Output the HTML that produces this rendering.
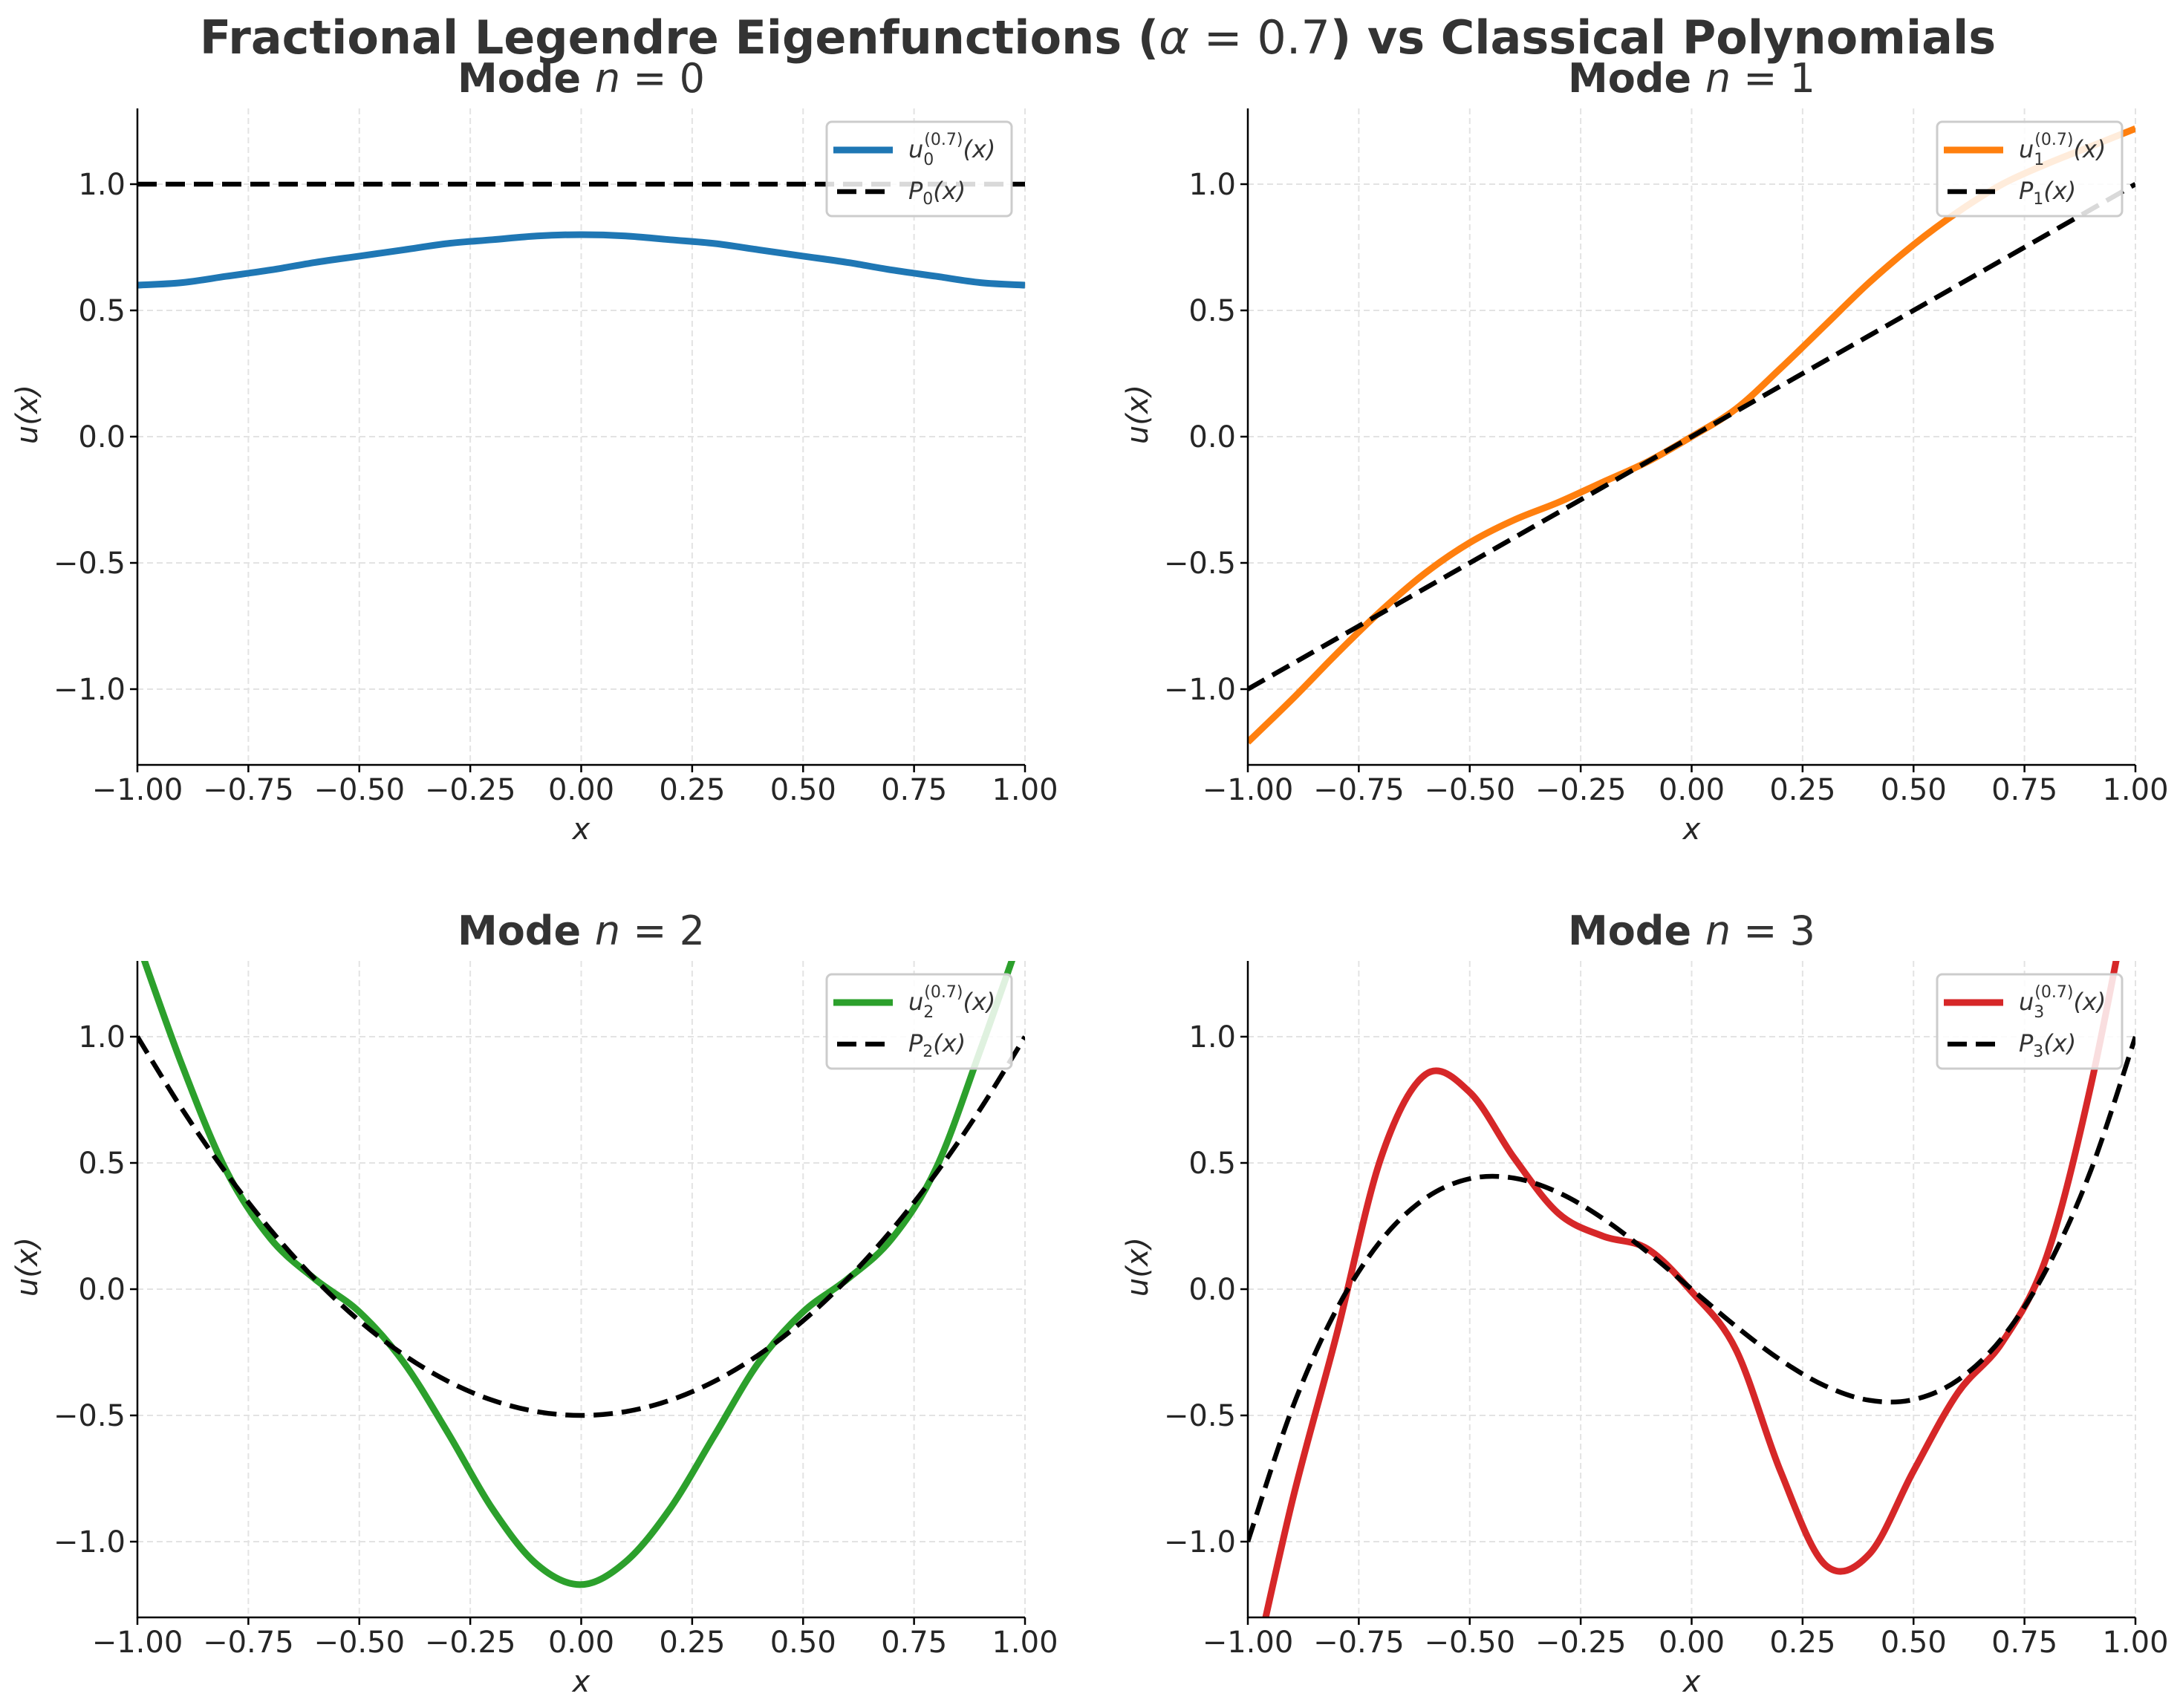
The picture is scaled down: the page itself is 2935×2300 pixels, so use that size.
<!DOCTYPE html>
<html><head><meta charset="utf-8">
<style>
html,body{margin:0;padding:0;background:#fff;}
svg{display:block;font-family:"DejaVu Sans","Liberation Sans",sans-serif;}
</style></head>
<body>
<svg id="fig" width="2935" height="2300" viewBox="0 0 2935 2300" xmlns="http://www.w3.org/2000/svg">
<rect width="2935" height="2300" fill="#fff"/>
<text x="1478" y="72" text-anchor="middle" font-size="62" font-weight="bold" fill="#333">Fractional Legendre Eigenfunctions (<tspan font-style="italic" font-weight="normal">α</tspan><tspan font-weight="normal"> = 0.7</tspan>) vs Classical Polynomials</text>
</svg>
<script>
// ---- data ----
const xGrid = [-1,-0.9,-0.8,-0.7,-0.6,-0.5,-0.4,-0.3,-0.2,-0.1,0,0.1,0.2,0.3,0.4,0.5,0.6,0.7,0.8,0.9,1];
const u0 = [0.60,0.61,0.635,0.66,0.69,0.715,0.74,0.765,0.78,0.795,0.80,0.795,0.78,0.765,0.74,0.715,0.69,0.66,0.635,0.61,0.60];
const p0 = [1,1,1,1,1,1,1,1,1,1,1,1,1,1,1,1,1,1,1,1,1];
const u1 = [-1.21,-1.04,-0.86,-0.69,-0.54,-0.42,-0.33,-0.26,-0.18,-0.10,0,0.11,0.27,0.44,0.61,0.76,0.89,1.0,1.08,1.15,1.22];
const p1 = [-1,-0.9,-0.8,-0.7,-0.6,-0.5,-0.4,-0.3,-0.2,-0.1,0,0.1,0.2,0.3,0.4,0.5,0.6,0.7,0.8,0.9,1];
const u2 = [1.38,0.89,0.47,0.20,0.04,-0.09,-0.29,-0.57,-0.87,-1.09,-1.17,-1.08,-0.87,-0.58,-0.29,-0.09,0.04,0.20,0.48,0.95,1.45];
const p2 = [1,0.715,0.46,0.235,0.04,-0.125,-0.26,-0.365,-0.44,-0.485,-0.5,-0.485,-0.44,-0.365,-0.26,-0.125,0.04,0.235,0.46,0.715,1];
const x3 = [-1,-0.9,-0.8,-0.7,-0.6,-0.5,-0.4,-0.3,-0.2,-0.1,0,0.1,0.2,0.3,0.4,0.5,0.6,0.7,0.8,0.9,1];
const u3 = [-1.62,-0.84,-0.18,0.52,0.85,0.78,0.52,0.30,0.21,0.16,-0.01,-0.24,-0.72,-1.09,-1.05,-0.72,-0.41,-0.21,0.13,0.81,1.7];
const p3 = [-1,-0.4725,-0.08,0.1925,0.36,0.4375,0.44,0.3825,0.28,0.1475,0,-0.1475,-0.28,-0.3825,-0.44,-0.4375,-0.36,-0.1925,0.08,0.4725,1];
const xTicks = [-1,-0.75,-0.5,-0.25,0,0.25,0.5,0.75,1];
const xTickLabels = ["−1.00","−0.75","−0.50","−0.25","0.00","0.25","0.50","0.75","1.00"];
const yTicks = [-1,-0.5,0,0.5,1];
const yTickLabels = ["−1.0","−0.5","0.0","0.5","1.0"];

const NS = "http://www.w3.org/2000/svg";
const fig = document.getElementById('fig');
function mk(tag, attrs, parent){
  const e = document.createElementNS(NS, tag);
  for (const k in attrs) e.setAttribute(k, attrs[k]);
  (parent||fig).appendChild(e);
  return e;
}
function smoothPath(pts){
  let d = "M" + pts[0][0].toFixed(2) + "," + pts[0][1].toFixed(2);
  for (let i=0;i<pts.length-1;i++){
    const p0 = pts[Math.max(0,i-1)], p1 = pts[i], p2 = pts[i+1], p3 = pts[Math.min(pts.length-1,i+2)];
    const c1x = p1[0]+(p2[0]-p0[0])/6, c1y = p1[1]+(p2[1]-p0[1])/6;
    const c2x = p2[0]-(p3[0]-p1[0])/6, c2y = p2[1]-(p3[1]-p1[1])/6;
    d += " C"+c1x.toFixed(2)+","+c1y.toFixed(2)+" "+c2x.toFixed(2)+","+c2y.toFixed(2)+" "+p2[0].toFixed(2)+","+p2[1].toFixed(2);
  }
  return d;
}

const panels = [
  {n:0, left:185, top:146, xs:xGrid, u:u0, p:p0, color:"#1f77b4"},
  {n:1, left:1680, top:146, xs:xGrid, u:u1, p:p1, color:"#ff7f0e"},
  {n:2, left:185, top:1294, xs:xGrid, u:u2, p:p2, color:"#2ca02c"},
  {n:3, left:1680, top:1294, xs:x3, u:u3, p:p3, color:"#d62728"}
];
const W = 1195, H = 884, YMIN = -1.3, YMAX = 1.3;

panels.forEach(pn => {
  const g = mk('g', {});
  
  
  const sx = v => pn.left + (v + 1) / 2 * W;
  const sy = v => pn.top + (YMAX - v) / (YMAX - YMIN) * H;
  const cid = 'clip' + pn.n;
  const cp = mk('clipPath', {id: cid}, g);
  mk('rect', {x: pn.left, y: pn.top, width: W, height: H}, cp);

  xTicks.forEach(t => {
    const l = mk('line', {x1: sx(t), x2: sx(t), y1: pn.top, y2: pn.top + H, stroke: "#e3e3e3", "stroke-width": 2, "stroke-dasharray": "8 5"}, g);
    
    
  });
  yTicks.forEach(t => {
    const l = mk('line', {x1: pn.left, x2: pn.left + W, y1: sy(t), y2: sy(t), stroke: "#e3e3e3", "stroke-width": 2, "stroke-dasharray": "8 5"}, g);
    
    
  });

  const up = mk('path', {d: smoothPath(pn.xs.map((x, i) => [sx(x), sy(pn.u[i])])), fill: "none", stroke: pn.color, "stroke-width": 9, "stroke-linejoin": "round", "clip-path": "url(#" + cid + ")"}, g);
  
  
  const pp = mk('path', {d: smoothPath(xGrid.map((x, i) => [sx(x), sy(pn.p[i])])), fill: "none", stroke: "#000", "stroke-width": 6.5, "stroke-dasharray": "26 12", "clip-path": "url(#" + cid + ")"}, g);
  
  

  const sl = mk('line', {x1: pn.left, x2: pn.left, y1: pn.top, y2: pn.top + H + 1, stroke: "#000", "stroke-width": 2.5}, g);
  
  
  const sb = mk('line', {x1: pn.left - 1, x2: pn.left + W, y1: pn.top + H, y2: pn.top + H, stroke: "#000", "stroke-width": 2.5}, g);
  
  

  xTicks.forEach((t, i) => {
    mk('line', {x1: sx(t), x2: sx(t), y1: pn.top + H, y2: pn.top + H + 10, stroke: "#000", "stroke-width": 2.5}, g);
    const tx = mk('text', {x: sx(t), y: pn.top + H + 47, "text-anchor": "middle", "font-size": 40, fill: "#262626"}, g);
    tx.textContent = xTickLabels[i];
    
    
  });
  yTicks.forEach((t, i) => {
    mk('line', {x1: pn.left - 10, x2: pn.left, y1: sy(t), y2: sy(t), stroke: "#000", "stroke-width": 2.5}, g);
    const ty = mk('text', {x: pn.left - 16, y: sy(t) + 14, "text-anchor": "end", "font-size": 40, fill: "#262626"}, g);
    ty.textContent = yTickLabels[i];
    
    
  });

  const xl = mk('text', {x: pn.left + W / 2, y: pn.top + H + 100, "text-anchor": "middle", "font-size": 40, "font-style": "italic", fill: "#262626"}, g);
  xl.textContent = "x";
  
  
  const cy = pn.top + H / 2 - 30;
  const yl = mk('text', {x: pn.left - 135, y: cy, "text-anchor": "middle", "font-size": 40, "font-style": "italic", fill: "#262626", transform: "rotate(-90 " + (pn.left - 135) + " " + cy + ")"}, g);
  yl.textContent = "u(x)";
  
  

  const tt = mk('text', {x: pn.left + W / 2, y: pn.top - 22, "text-anchor": "middle", "font-size": 54, fill: "#333"}, g);
  tt.innerHTML = '<tspan font-weight="bold">Mode </tspan><tspan font-style="italic">n</tspan> = ' + pn.n;
  
  

  const lg = mk('g', {}, g);
  
  
  const lx = pn.left + W - 18 - 249, ly = pn.top + 18;
  mk('rect', {x: lx, y: ly, width: 249, height: 127, rx: 7, fill: "#fff", "fill-opacity": 0.85, stroke: "#cccccc", "stroke-width": 3}, lg);
  mk('line', {x1: lx + 9, x2: lx + 89, y1: ly + 38, y2: ly + 38, stroke: pn.color, "stroke-width": 9}, lg);
  mk('line', {x1: lx + 14, x2: lx + 89, y1: ly + 94, y2: ly + 94, stroke: "#000", "stroke-width": 6.5, "stroke-dasharray": "26 12"}, lg);
  const t1 = mk('text', {x: lx + 110, y: ly + 48, "font-size": 32, fill: "#333", "font-style": "italic"}, lg);
  t1.innerHTML = 'u<tspan font-style="normal" font-size="22" dy="10">' + pn.n + '</tspan><tspan font-style="normal" font-size="22" dx="-13" dy="-27">(0.7)</tspan><tspan dy="17">(x)</tspan>';
  
  
  const t2 = mk('text', {x: lx + 110, y: ly + 104, "font-size": 32, fill: "#333", "font-style": "italic"}, lg);
  t2.innerHTML = 'P<tspan font-style="normal" font-size="22" dy="7">' + pn.n + '</tspan><tspan dy="-7">(x)</tspan>';
  
  
});
</script>
</body></html>
